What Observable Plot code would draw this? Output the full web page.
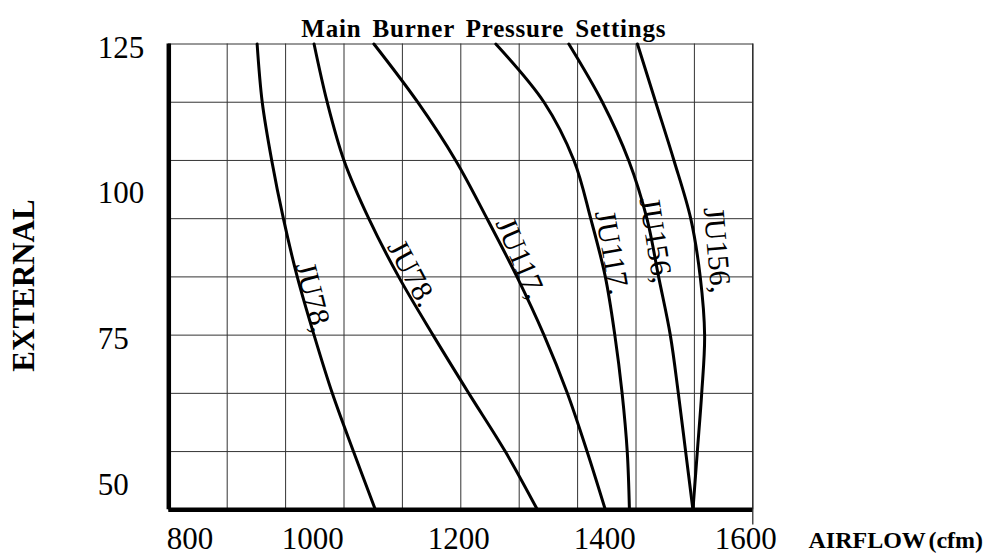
<!DOCTYPE html>
<html><head><meta charset="utf-8">
<script src="https://cdn.jsdelivr.net/npm/d3@7"></script>
<script src="https://cdn.jsdelivr.net/npm/@observablehq/plot@0.6"></script>
<style>
html,body{margin:0;padding:0;background:#fff;}
#chart{width:989px;height:556px;overflow:hidden;}
</style></head><body><div id="chart"></div>
<script>
const titleText = "Main Burner Pressure Settings";
const xLabelText = "AIRFLOW (cfm)";
const yLabelText = "EXTERNAL";
const xGridValues = [800, 880, 960, 1040, 1120, 1200, 1280, 1360, 1440, 1520, 1600];
const yGridValues = [45, 55, 65, 75, 85, 95, 105, 115, 125];
const xTickValues = [800, 1000, 1200, 1400, 1600];
const yTickValues = [50, 75, 100, 125];
const pressureLevels = [125, 115, 105, 95, 85, 75, 65, 55, 45];
const ju78a  = [921, 928, 941, 957, 976, 999, 1024, 1053, 1083];
const ju78b  = [999, 1017, 1040, 1074, 1115, 1162, 1211, 1261, 1305];
const ju117a = [1081, 1141, 1193, 1236, 1277, 1314, 1346, 1373, 1398];
const ju117b = [1248, 1314, 1355, 1378, 1398, 1411, 1421, 1428, 1431];
const ju156a = [1348, 1394, 1430, 1455, 1471, 1487, 1498, 1508, 1518];
const ju156b = [1442, 1467, 1492, 1515, 1528, 1534, 1530, 1524, 1518];
const labelTexts = ["JU78,", "JU78.", "JU117,", "JU117.", "JU156,", "JU156,"];
const labelX = [998, 1133, 1282, 1407, 1467, 1551];
const labelY = [81.5, 85.6, 88.2, 89.2, 91.3, 89.6];
const labelAngle = [76, 62, 67, 80, 81, 85];

const seriesList = [ju78a, ju78b, ju117a, ju117b, ju156a, ju156b];
const rows = [];
seriesList.forEach((xs, s) => xs.forEach((v, i) => rows.push({series: s, x: v, y: pressureLevels[i]})));
const labelRows = labelTexts.map((t, i) => ({text: t, x: labelX[i], y: labelY[i], angle: labelAngle[i]}));

const font = "'Liberation Serif', 'Times New Roman', Times, serif";
const chart = Plot.plot({
  width: 989, height: 556,
  marginLeft: 168.3, marginRight: 236.7, marginTop: 43.5, marginBottom: 46.7,
  x: {domain: [800, 1600], axis: null},
  y: {domain: [45, 125], axis: null},
  style: {fontFamily: font, background: "white", color: "black", overflow: "visible"},
  marks: [
    Plot.ruleX(xGridValues, {stroke: "#333", strokeWidth: 1}),
    Plot.ruleY(yGridValues, {stroke: "#333", strokeWidth: 1}),
    Plot.ruleX([1600], {y1: 125, y2: 42.4, stroke: "#222", strokeWidth: 1.2}),
    Plot.ruleX([800], {stroke: "black", strokeWidth: 4.5}),
    Plot.ruleY([45], {stroke: "black", strokeWidth: 4.5}),
    Plot.line(rows, {x: "x", y: "y", z: "series", stroke: "black", strokeWidth: 3, curve: "catmull-rom"}),
    Plot.text(labelRows, {x: "x", y: "y", text: "text", rotate: "angle", fontSize: 30, fill: "black"}),
    Plot.text(yTickValues, {y: d => d, text: d => String(d), frameAnchor: "left", textAnchor: "start", dx: -71, dy: 4, fontSize: 31, fill: "black"}),
    Plot.text(xTickValues.slice(0, 1), {x: d => d, text: d => String(d), frameAnchor: "bottom", textAnchor: "start", lineAnchor: "top", dx: -2, dy: 17.5, fontSize: 31, fill: "black"}),
    Plot.text(xTickValues.slice(1, 4), {x: d => d, text: d => String(d), frameAnchor: "bottom", textAnchor: "middle", lineAnchor: "top", dx: -2, dy: 17.5, fontSize: 31, fill: "black"}),
    Plot.text(xTickValues.slice(4), {x: d => d, text: d => String(d), frameAnchor: "bottom", textAnchor: "middle", lineAnchor: "top", dx: -7, dy: 17.5, fontSize: 31, fill: "black"}),
    Plot.text([titleText], {text: d => d, frameAnchor: "top", textAnchor: "middle", lineAnchor: "top", dx: 23, dy: -25, fontSize: 25, fontWeight: "bold", fill: "black"}),
    Plot.text([xLabelText], {text: d => d, frameAnchor: "bottom-right", textAnchor: "start", lineAnchor: "top", dx: 55.7, dy: 21, fontSize: 24, fontWeight: "bold", fill: "black"}),
    Plot.text([yLabelText], {text: d => d, frameAnchor: "left", textAnchor: "middle", rotate: -90, dx: -144.7, dy: 8.6, fontSize: 31, fontWeight: "bold", fill: "black"})
  ]
});
d3.select(chart).selectAll("text").filter(function() { return this.textContent === titleText; })
  .style("word-spacing", "4px").style("letter-spacing", "0.8px");
d3.select(chart).selectAll("text").filter(function() { return this.textContent === xLabelText; })
  .style("letter-spacing", "0px").style("word-spacing", "-3px");
document.getElementById("chart").appendChild(chart);
</script>
</body></html>
